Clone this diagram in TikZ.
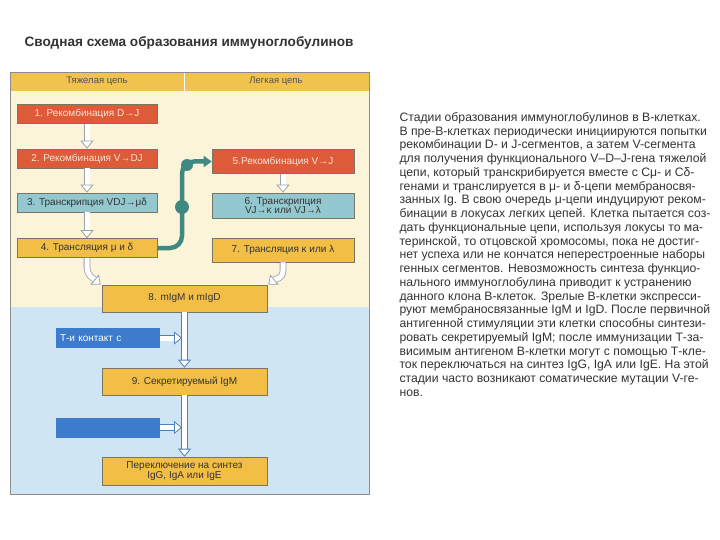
\documentclass[tikz,border=0pt]{standalone}
\usepackage{fontspec}
\setmainfont{Liberation Sans}
\usetikzlibrary{arrows.meta}

\definecolor{hdrfill}{HTML}{F0C24E}
\definecolor{upfill}{HTML}{FBF4D8}
\definecolor{lofill}{HTML}{CFE5F3}
\definecolor{frameln}{HTML}{8C8C8C}
\definecolor{rdfill}{HTML}{DD5B38}
\definecolor{rdtext}{HTML}{FBE3D8}
\definecolor{tlfill}{HTML}{93C8D0}
\definecolor{ylfill}{HTML}{F2BE46}
\definecolor{blfill}{HTML}{3D7CCC}
\definecolor{boxln}{HTML}{7A7466}
\definecolor{holup}{HTML}{9AA2AA}
\definecolor{hollo}{HTML}{4F80B8}
\definecolor{conn}{HTML}{3E8A82}
\definecolor{txt}{HTML}{333333}

\begin{document}
\begin{tikzpicture}[x=1pt,y=-1pt,
  box/.style={draw=boxln,line width=0.6pt,inner sep=1pt,align=center,
    text=txt,font=\fontsize{10}{10.5}\selectfont},
  rd/.style={box,fill=rdfill,text=rdtext,minimum width=140pt,minimum height=19pt},
  tl/.style={box,fill=tlfill,minimum width=140pt,minimum height=19pt},
  yl/.style={box,fill=ylfill,minimum width=140pt,minimum height=19pt},
  bl/.style={box,fill=blfill,draw=none,text=white,minimum width=104pt,
    minimum height=20pt,align=left,text width=96pt},
  hol/.style={draw=#1,line width=0.8pt,double=white,double distance=5pt,
    -{Triangle[length=8pt,width=13pt,fill=white,line width=0.8pt]}},
  hol/.default=holup]
  \useasboundingbox (0,0) rectangle (720,540);
  \fill[white] (0,0) rectangle (720,540);
  % frame and backgrounds
  \fill[upfill] (10,91) rectangle (369,307);
  \fill[lofill] (10,307) rectangle (369,494);
  \fill[hdrfill] (10,72) rectangle (369,91);
  \draw[white,line width=1pt] (184,72) -- (184,91);
  \draw[frameln,line width=0.6pt] (10,72) rectangle (369,494);
  \node[anchor=west,font=\fontsize{13.6}{15}\selectfont\bfseries,text=txt] (title) at (21,43)
    {Сводная схема образования иммуноглобулинов};
  \node[font=\fontsize{9.5}{10}\selectfont,text=txt!85] (heavy) at (97,81.5) {Тяжелая цепь};
  \node[font=\fontsize{9.5}{10}\selectfont,text=txt!85] (light) at (276,81.5) {Легкая цепь};
  % heavy chain
  \node[rd] (b1) at (87,114)   {1. Рекомбинация D→J};
  \node[rd] (b2) at (87,158.5) {2. Рекомбинация V→DJ};
  \node[tl] (b3) at (87,202.5) {3. Транскрипция VDJ→μδ};
  \node[yl] (b4) at (87,248)   {4. Трансляция μ и δ};
  % light chain
  \node[rd,minimum width=142pt,minimum height=24pt] (b5) at (283,161.5) {5.Рекомбинация V→J};
  \node[tl,minimum width=142pt,minimum height=25pt,font=\fontsize{10}{9.5}\selectfont] (b6) at (283,205.5)
    {6. Транскрипция\\VJ→κ или VJ→λ};
  \node[yl,minimum width=142pt,minimum height=24pt] (b7) at (283,250) {7. Трансляция κ или λ};
  % mature cell
  \node[yl,minimum width=165pt,minimum height=27pt] (b8) at (184.5,298.5) {8. mIgM и mIgD};
  \node[bl] (t1) at (108,338) {Т-и контакт с};
  \node[yl,minimum width=165pt,minimum height=27pt] (b9) at (184.5,381.5) {9. Секретируемый IgM};
  \node[bl] (t2) at (108,427.5) {};
  \node[yl,minimum width=165pt,minimum height=28pt,font=\fontsize{10}{10.5}\selectfont] (b10) at (184.5,471)
    {Переключение на синтез\\IgG, IgA или IgE};
  \coordinate (j1) at (182,338);
  \coordinate (j2) at (182,427.5);
  % hollow arrows
  \draw[hol] (b1) -- (b2);
  \draw[hol] (b2) -- (b3);
  \draw[hol] (b3) -- (b4);
  \draw[hol] (b5) -- (b6);
  \draw[hol] (b4.south) -- ++(0,9) .. controls +(0,9) and +(-7,-6) .. ([xshift=-1pt]b8.north west);
  \draw[hol] (b7.south) -- ++(0,8) .. controls +(0,9) and +(7,-6) .. ([xshift=1pt]b8.north east);
  \draw[hol=hollo] (b8) -- (b9);
  \draw[hol=hollo] (b9) -- (b10);
  \draw[hol=hollo] (t1) -- (j1);
  \draw[hol=hollo] (t2) -- (j2);
  % heavy chain signal to light chain locus
  \draw[conn,line width=4.5pt,rounded corners=12pt,
    -{Triangle[length=8pt,width=11pt]}] (b4.east) -| (182,161.5) -- (b5.west);
  \fill[conn] (182,207) circle (7pt);
  \fill[conn] (187,165) circle (6pt);
  % caption
  \node[anchor=north west,align=left,text=txt,
    font=\fontsize{12.2}{13.75}\selectfont] (caption) at (396,109)
    {Стадии образования иммуноглобулинов в В-клетках.\\
     В пре-В-клетках периодически инициируются попытки\\
     рекомбинации D- и J-сегментов, а затем V-сегмента\\
     для получения функционального V–D–J-гена тяжелой\\
     цепи, который транскрибируется вместе с Cμ- и Cδ-\\
     генами и транслируется в μ- и δ-цепи мембраносвя-\\
     занных Ig. В свою очередь μ-цепи индуцируют реком-\\
     бинации в локусах легких цепей. Клетка пытается соз-\\
     дать функциональные цепи, используя локусы то ма-\\
     теринской, то отцовской хромосомы, пока не достиг-\\
     нет успеха или не кончатся неперестроенные наборы\\
     генных сегментов. Невозможность синтеза функцио-\\
     нального иммуноглобулина приводит к устранению\\
     данного клона В-клеток. Зрелые В-клетки экспресси-\\
     руют мембраносвязанные IgM и IgD. После первичной\\
     антигенной стимуляции эти клетки способны синтези-\\
     ровать секретируемый IgM; после иммунизации Т-за-\\
     висимым антигеном В-клетки могут с помощью Т-кле-\\
     ток переключаться на синтез IgG, IgA или IgE. На этой\\
     стадии часто возникают соматические мутации V-ге-\\
     нов.};
\end{tikzpicture}
\end{document}
